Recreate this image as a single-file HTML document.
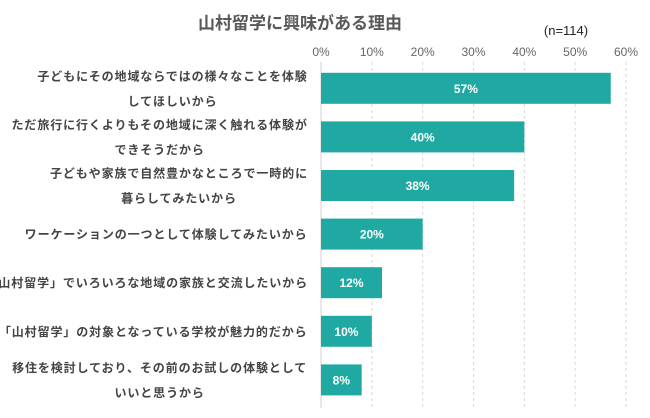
<!DOCTYPE html>
<html><head><meta charset="utf-8"><style>
html,body{margin:0;padding:0;background:#fff;}
svg{display:block;font-family:"Liberation Sans","Noto Sans CJK JP",sans-serif;}
</style></head><body>
<svg id="chart" width="650" height="418" viewBox="0 0 650 418">
<text x="300" y="29" text-anchor="middle" font-size="17" font-weight="bold" fill="#595959">山村留学に興味がある理由</text>
<text x="566" y="35" text-anchor="middle" font-size="13" fill="#222">(n=114)</text>
<g id="grid"></g><g id="bars"></g><g id="labels"></g>
</svg>
<script>
const categories=[
["子どもにその地域ならではの様々なことを体験","してほしいから"],
["ただ旅行に行くよりもその地域に深く触れる体験が","できそうだから"],
["子どもや家族で自然豊かなところで一時的に","暮らしてみたいから"],
["ワーケーションの一つとして体験してみたいから"],
["「山村留学」でいろいろな地域の家族と交流したいから"],
["「山村留学」の対象となっている学校が魅力的だから"],
["移住を検討しており、その前のお試しの体験として","いいと思うから"]
];
const values=[57,40,38,20,12,10,8];
const valueLabels=["57%","40%","38%","20%","12%","10%","8%"];
const ticks=[0,10,20,30,40,50,60];
const tickLabels=["0%","10%","20%","30%","40%","50%","60%"];
const NS="http://www.w3.org/2000/svg";
const x0=321,x1=626,xmax=60,yTop=64,rowH=48.6,barH=31;
const xs=v=>x0+(x1-x0)*v/xmax;
const yc=i=>yTop+rowH*(i+0.5);
function mk(t,a,p){const e=document.createElementNS(NS,t);for(const k in a)e.setAttribute(k,a[k]);p.appendChild(e);return e;}
const grid=document.getElementById('grid'),bars=document.getElementById('bars'),labels=document.getElementById('labels');
ticks.forEach((t,i)=>{
 const l=mk('line',{x1:xs(t),x2:xs(t),y1:62,y2:408,stroke:i===0?'#d0d0d0':'#d9d9d9','stroke-dasharray':i===0?'':'3,3'},grid);
 
 
 const tx=mk('text',{x:xs(t),y:56,'text-anchor':'middle','font-size':12,fill:'#666'},grid);
 tx.textContent=tickLabels[i];
 
 
});
values.forEach((v,i)=>{
 const r=mk('rect',{x:x0,y:yc(i)-barH/2,width:xs(v)-x0,height:barH,fill:'#20a9a3'},bars);
 
 
 const t=mk('text',{x:(x0+xs(v))/2,y:yc(i)+4.5,'text-anchor':'middle','font-size':12,'font-weight':'bold',fill:'#fff'},bars);
 t.textContent=valueLabels[i];
 
 
 const lines=categories[i];
 const first=lines[0].length*12.9;
 const cx=308-first/2;
 lines.forEach((s,j)=>{
  const y=yc(i)+4.5+(j-(lines.length-1)/2)*25;
  const lt=mk('text',{x:cx,y:y,'text-anchor':'middle','font-size':12,'font-weight':'bold',fill:'#444','letter-spacing':'0.9'},labels);
  lt.textContent=s;
  
  
 });
});
</script>
</body></html>
